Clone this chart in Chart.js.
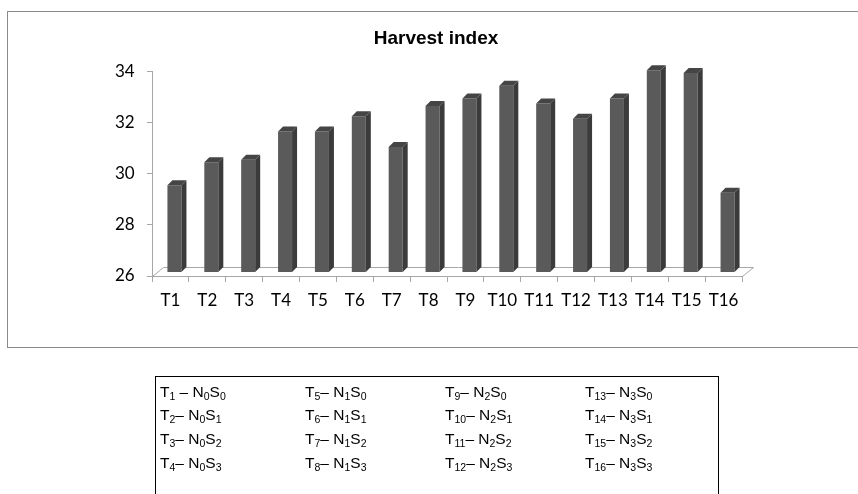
<!DOCTYPE html>
<html>
<head>
<meta charset="utf-8">
<script src="https://cdn.jsdelivr.net/npm/chart.js@4/dist/chart.umd.min.js"></script>
<style>
    html, body { margin: 0; padding: 0; background: #fff; }
    body { width: 858px; height: 494px; position: relative; overflow: hidden; }
    #cadre {
        position: absolute; left: 7px; top: 11px; width: 852px; height: 337px;
        border: 1px solid #8a8a8a; box-sizing: border-box;
    }
    #graph { position: absolute; left: 0; top: 0; }
    #legende {
        position: absolute; left: 155px; top: 376px; width: 564px; height: 130px;
        border: 1px solid #000; border-bottom: none; box-sizing: border-box;
        font-family: "Liberation Sans", Arial, sans-serif; font-size: 15.5px; color: #000;
    }
    #legende table { border-collapse: collapse; margin-top: 3px; }
    #legende td { padding: 0 0 0 4px; height: 23.6px; white-space: nowrap; vertical-align: middle; }
    #legende sub { font-size: 10.5px; vertical-align: -3px; line-height: 0; }
</style>
</head>
<body>
<div id="cadre"></div>
<canvas id="graph" width="858" height="494"></canvas>
<div id="legende"></div>

<script>
// Données
const categories = ['T1', 'T2', 'T3', 'T4', 'T5', 'T6', 'T7', 'T8',
                    'T9', 'T10', 'T11', 'T12', 'T13', 'T14', 'T15', 'T16'];
const harvestIndex = [29.4, 30.3, 30.4, 31.5, 31.5, 32.1, 30.9, 32.5,
                      32.8, 33.3, 32.6, 32.0, 32.8, 33.9, 33.8, 29.1];
const yMin = 26;
const yMax = 34;
const yStep = 2;

// Légende des traitements : T = N x S
const niveauxN = ['0', '1', '2', '3'];
const niveauxS = ['0', '1', '2', '3'];

// Construction du tableau de légende (colonnes = N, lignes = S)
const legende = document.getElementById('legende');
const colWidths = [145, 140, 140, 135];
let html = '<table>';
niveauxS.forEach((s, r) => {
    html += '<tr>';
    niveauxN.forEach((n, c) => {
        const t = c * niveauxS.length + r + 1;
        const sep = t === 1 ? ' – ' : '– ';
        html += `<td style="width:${colWidths[c] - 4}px">T<sub>${t}</sub>${sep}N<sub>${n}</sub>S<sub>${s}</sub></td>`;
    });
    html += '</tr>';
});
html += '</table>';
legende.innerHTML = html;

// Effet 3D : décalage des barres en profondeur + faces latérale et supérieure
const PROF_X = 5, PROF_Y = 5;      // épaisseur des barres
const SOL_X = 11, SOL_Y = 9;       // profondeur du plancher
const DECALAGE = { x: 4, y: -4 };  // barres au milieu du plancher

const effet3D = {
    id: 'effet3D',
    beforeDatasetsDraw(chart) {
        const { ctx, chartArea: a } = chart;
        // plancher
        ctx.save();
        ctx.strokeStyle = '#a6a6a6';
        ctx.lineWidth = 1;
        ctx.beginPath();
        ctx.moveTo(a.left + 0.5, a.bottom + 0.5);
        ctx.lineTo(a.left + SOL_X + 0.5, a.bottom - SOL_Y + 0.5);
        ctx.lineTo(a.right + SOL_X + 0.5, a.bottom - SOL_Y + 0.5);
        ctx.lineTo(a.right + 0.5, a.bottom + 0.5);
        ctx.stroke();
        ctx.restore();

        ctx.save();
        ctx.translate(DECALAGE.x, DECALAGE.y);
    },
    afterDatasetsDraw(chart) {
        const ctx = chart.ctx;
        const bas = chart.chartArea.bottom;
        chart.getDatasetMeta(0).data.forEach(bar => {
            const { x, y, width } = bar.getProps(['x', 'y', 'width'], true);
            const base = Math.min(bar.base, bas);
            const g = x - width / 2, d = x + width / 2;
            // face latérale
            ctx.fillStyle = '#3b3b3b';
            ctx.beginPath();
            ctx.moveTo(d, y);
            ctx.lineTo(d + PROF_X, y - PROF_Y);
            ctx.lineTo(d + PROF_X, base - PROF_Y);
            ctx.lineTo(d, base);
            ctx.closePath();
            ctx.fill();
            // face supérieure
            ctx.fillStyle = '#454545';
            ctx.beginPath();
            ctx.moveTo(g, y);
            ctx.lineTo(g + PROF_X, y - PROF_Y);
            ctx.lineTo(d + PROF_X, y - PROF_Y);
            ctx.lineTo(d, y);
            ctx.closePath();
            ctx.fill();
        });
        ctx.restore();
    }
};

new Chart(document.getElementById('graph'), {
    type: 'bar',
    data: {
        labels: categories,
        datasets: [{
            label: 'Harvest index',
            data: harvestIndex,
            backgroundColor: '#5a5a5a',
            borderWidth: 0,
            barPercentage: 0.38,
            categoryPercentage: 1.0
        }]
    },
    options: {
        responsive: false,
        animation: false,
        layout: { padding: { left: 130, right: 116, top: 24, bottom: 178 } },
        plugins: {
            legend: { display: false },
            tooltip: { enabled: false },
            title: {
                display: true,
                text: 'Harvest index',
                color: '#000',
                font: { family: '"Liberation Sans", Arial, sans-serif', size: 19, weight: 'bold', lineHeight: 1.2 },
                padding: { top: 3, bottom: 22 }
            }
        },
        scales: {
            x: {
                afterFit(s) { s.height = 40; },
                grid: {
                    drawOnChartArea: false, offset: true,
                    color: '#a6a6a6', tickLength: 6, tickColor: '#a6a6a6'
                },
                border: { color: '#a6a6a6' },
                ticks: {
                    color: '#000', padding: 8, maxRotation: 0, autoSkip: false,
                    font: { family: 'Lato, "Open Sans", sans-serif', size: 17 }
                }
            },
            y: {
                min: yMin, max: yMax,
                afterFit(s) { s.width = 22; },
                grid: {
                    drawOnChartArea: false,
                    color: '#a6a6a6', tickLength: 5, tickColor: '#a6a6a6'
                },
                border: { color: '#a6a6a6' },
                // mirror pour éviter le rognage des étiquettes hors de la boîte de l'axe
                ticks: {
                    stepSize: yStep, color: '#000', mirror: true, padding: -37,
                    font: { family: 'Lato, "Open Sans", sans-serif', size: 17 }
                }
            }
        }
    },
    plugins: [effet3D]
});
</script>
</body>
</html>
